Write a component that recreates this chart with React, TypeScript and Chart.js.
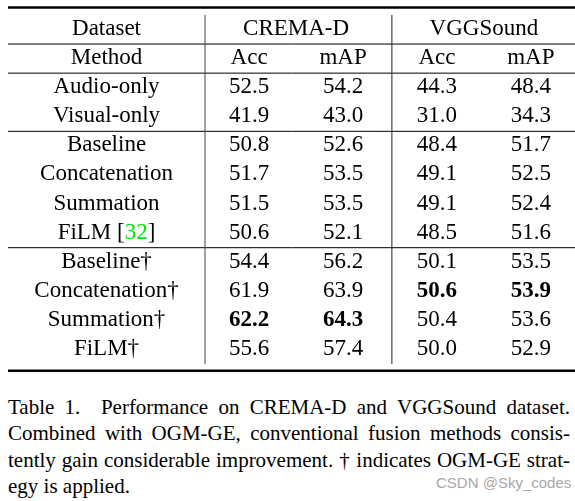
import React, { useEffect, useRef } from "react";
import { Chart, registerables } from "chart.js";

Chart.register(...registerables);

// ---- data ----
const datasetNames = ["CREMA-D", "VGGSound"];
const metricNames = ["Acc", "mAP"];
const methods = [
  "Audio-only",
  "Visual-only",
  "Baseline",
  "Concatenation",
  "Summation",
  "FiLM",
  "Baseline†",
  "Concatenation†",
  "Summation†",
  "FiLM†",
];
const citations = ["", "", "", "", "", "32", "", "", "", ""];
const groupSizes = [2, 4, 4];
const cremaAcc = [52.5, 41.9, 50.8, 51.7, 51.5, 50.6, 54.4, 61.9, 62.2, 55.6];
const cremaMap = [54.2, 43.0, 52.6, 53.5, 53.5, 52.1, 56.2, 63.9, 64.3, 57.4];
const vggAcc = [44.3, 31.0, 48.4, 49.1, 49.1, 48.5, 50.1, 50.6, 50.4, 50.0];
const vggMap = [48.4, 34.3, 51.7, 52.5, 52.4, 51.6, 53.5, 53.9, 53.6, 52.9];
const columns = [cremaAcc, cremaMap, vggAcc, vggMap];
const headerCorner = ["Dataset", "Method"];
const captionLines = [
  "Table 1.\u00a0 Performance on CREMA-D and VGGSound dataset.",
  "Combined with OGM-GE, conventional fusion methods consis-",
  "tently gain considerable improvement. † indicates OGM-GE strat-",
  "egy is applied.",
];
const watermark = "CSDN @Sky_codes";

const FONT = "'Liberation Serif', 'Times New Roman', serif";
const FS = 23;

const tablePlugin = {
  id: "tablePlugin",
  afterDatasetsDraw(chart: any) {
    const { ctx, chartArea, scales } = chart;
    const xs = scales.x;
    const ys = scales.y;
    const tableLeft = 8;
    const left = tableLeft;
    const right = chartArea.right;
    const methodX = (tableLeft + chartArea.left) / 2;
    const off = FS * 0.24;
    ctx.save();

    const hline = (y: number, w: number, color = "#000") => {
      ctx.beginPath();
      ctx.strokeStyle = color;
      ctx.lineWidth = w;
      ctx.moveTo(left, y);
      ctx.lineTo(right, y);
      ctx.stroke();
    };
    const vline = (x: number, color: string) => {
      ctx.beginPath();
      ctx.strokeStyle = color;
      ctx.lineWidth = 1;
      ctx.moveTo(x, ys.getPixelForValue(-2.5));
      ctx.lineTo(x, ys.getPixelForValue(9.5));
      ctx.stroke();
    };

    // rules
    hline(chartArea.top + 0.5, 2.5);
    hline(chartArea.bottom - 0.3, 2.5);
    hline(ys.getPixelForValue(-1.5), 1);
    hline(ys.getPixelForValue(-0.5), 1);
    let acc = 0;
    for (let g = 0; g < groupSizes.length - 1; g++) {
      acc += groupSizes[g];
      hline(ys.getPixelForValue(acc - 0.5), 1);
    }
    vline(chartArea.left, "#444");
    vline(xs.getPixelForValue(1.52), "#222");

    ctx.fillStyle = "#000";
    ctx.textAlign = "center";
    ctx.textBaseline = "alphabetic";
    ctx.font = `${FS}px ${FONT}`;

    // headers
    ctx.fillText(headerCorner[0], methodX, ys.getPixelForValue(-2) + off);
    ctx.fillText(headerCorner[1], methodX, ys.getPixelForValue(-1) + off);
    datasetNames.forEach((d, k) => {
      const cx = (xs.getPixelForValue(2 * k) + xs.getPixelForValue(2 * k + 1)) / 2;
      ctx.fillText(d, cx, ys.getPixelForValue(-2) + off);
      metricNames.forEach((m, j) => {
        ctx.fillText(m, xs.getPixelForValue(2 * k + j), ys.getPixelForValue(-1) + off);
      });
    });

    // method names
    methods.forEach((m, i) => {
      const y = ys.getPixelForValue(i) + off;
      if (citations[i]) {
        const a = m + " [";
        const b = citations[i];
        const c = "]";
        const wa = ctx.measureText(a).width;
        const wb = ctx.measureText(b).width;
        const wc = ctx.measureText(c).width;
        let x = methodX - (wa + wb + wc) / 2;
        ctx.textAlign = "left";
        ctx.fillStyle = "#000";
        ctx.fillText(a, x, y);
        x += wa;
        ctx.fillStyle = "#00e600";
        ctx.fillText(b, x, y);
        x += wb;
        ctx.fillStyle = "#000";
        ctx.fillText(c, x, y);
        ctx.textAlign = "center";
      } else {
        ctx.fillText(m, methodX, y);
      }
    });

    // cells
    chart.data.datasets.forEach((ds: any, d: number) => {
      const meta = chart.getDatasetMeta(d);
      const vals = columns[d];
      const mx = Math.max(...vals);
      meta.data.forEach((el: any, i: number) => {
        const v = vals[i];
        ctx.font = (v === mx ? "bold " : "") + `${FS}px ${FONT}`;
        ctx.fillText(v.toFixed(1), el.x, el.y + off);
      });
    });
    ctx.restore();
  },
};

export default function App() {
  const ref = useRef<HTMLCanvasElement | null>(null);
  useEffect(() => {
    if (!ref.current) return;
    const chart = new Chart(ref.current, {
      type: "scatter",
      data: {
        datasets: columns.map((col, c) => ({
          label: `${datasetNames[Math.floor(c / 2)]} ${metricNames[c % 2]}`,
          data: col.map((v, r) => ({ x: c, y: r })),
          pointRadius: 0,
          pointHoverRadius: 0,
        })),
      },
      options: {
        responsive: false,
        animation: false,
        events: [],
        layout: { padding: { left: 205, right: 0, top: 7, bottom: 5 } },
        scales: {
          x: { type: "linear", display: false, min: -0.47, max: 3.47 },
          y: { type: "linear", display: false, reverse: true, min: -2.774, max: 9.739 },
        },
        plugins: { legend: { display: false }, tooltip: { enabled: false } },
      },
      plugins: [tablePlugin],
    });
    return () => chart.destroy();
  }, []);

  return (
    <div style={{ position: "absolute", left: 0, top: 0, width: 575, height: 501, background: "#fff", overflow: "hidden" }}>
      <canvas ref={ref} width={575} height={376} style={{ display: "block", width: 575, height: 376 }} />
      <div
        style={{
          position: "absolute",
          left: 8,
          top: 394,
          width: 562,
          fontFamily: FONT,
          fontSize: 21,
          lineHeight: "26.3px",
          color: "#000",
        }}
      >
        {captionLines.map((l, i) => (
          <div
            key={i}
            style={{
              whiteSpace: "nowrap",
              textAlign: i === captionLines.length - 1 ? "left" : "justify",
              textAlignLast: i === captionLines.length - 1 ? "left" : "justify",
            }}
          >
            {l}
          </div>
        ))}
      </div>
      <div
        style={{
          position: "absolute",
          left: 436,
          top: 474,
          fontFamily: "'Liberation Sans', Arial, sans-serif",
          fontSize: 15,
          color: "#a8a8a8",
          whiteSpace: "nowrap",
        }}
      >
        {watermark}
      </div>
    </div>
  );
}
